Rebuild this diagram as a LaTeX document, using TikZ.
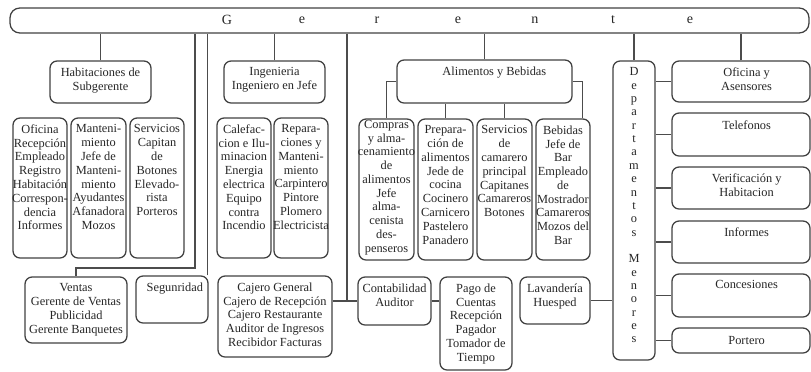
\documentclass[tikz,border=0pt]{standalone}
\usepackage{fontspec}
\setmainfont{Liberation Serif}
\usetikzlibrary{positioning, fit, calc}

\begin{document}
\begin{tikzpicture}[x=0.025cm, y=-0.025cm,
    box/.style={draw=black!75, line width=0.9pt, rounded corners=5pt, inner sep=0pt},
    txt/.style={align=center, font=\fontsize{8.8}{9.8}\selectfont, text=black!85, inner sep=1pt},
    con/.style={draw=black!70, line width=0.8pt}]
    \useasboundingbox (0,0) rectangle (811,371);

    % Gerente bar
    \node[box, rounded corners=7pt, fit={(10,8) (809,33)}] (ger) {};
    \foreach \l/\x [count=\i] in {G/227,e/302,r/377,e/458,n/535,t/613,e/690}
        \node[txt, font=\fontsize{10}{11}\selectfont] (g\i) at (\x,20) {\l};

    % First row
    \node[box, fit={(50,61) (151,103)}] (hab) {};
    \node[txt, below=4pt of hab.north] (hab-t) {Habitaciones de\\Subgerente};
    \node[box, fit={(224,61) (325,103)}] (ing) {};
    \node[txt, below=4pt of ing.north] (ing-t) {Ingenieria\\Ingeniero en Jefe};
    \node[box, fit={(397,60) (572,103)}] (ali) {};
    \node[txt, below=4pt of ali.north, xshift=7pt] (ali-t) {Alimentos y Bebidas};
    \node[box, fit={(613,61) (655,360)}] (dep) {};
    \node[txt, below=4pt of dep.north, font=\fontsize{8.8}{9.5}\selectfont] (dep-t)
        {D\\e\\p\\a\\r\\t\\a\\m\\e\\n\\t\\o\\s\\[9.5pt]M\\e\\n\\o\\r\\e\\s};

    % Right column
    \node[box, fit={(672,61) (810,102)}] (ofa) {};
    \node[txt, below=4pt of ofa.north, xshift=4pt] (ofa-t) {Oficina y\\Asensores};
    \node[box, fit={(672,113) (810,156)}] (tel) {};
    \node[txt, below=5pt of tel.north, xshift=4pt] (tel-t) {Telefonos};
    \node[box, fit={(672,167) (810,209)}] (ver) {};
    \node[txt, below=4pt of ver.north, xshift=4pt] (ver-t) {Verificación y\\Habitacion};
    \node[box, fit={(672,221) (810,263)}] (inf) {};
    \node[txt, below=4pt of inf.north, xshift=4pt] (inf-t) {Informes};
    \node[box, fit={(672,274) (810,317)}] (conc) {};
    \node[txt, below=4pt of conc.north, xshift=4pt] (conc-t) {Concesiones};
    \node[box, fit={(672,328) (810,353)}] (por) {};
    \node[txt, xshift=4pt] (por-t) at (por.center) {Portero};

    % Second row
    \node[box, fit={(13,118) (67,258)}] (ofr) {};
    \node[txt, below=4pt of ofr.north] (ofr-t) {Oficina\\Recepción\\Empleado\\Registro\\Habitación\\Correspon-\\dencia\\Informes};
    \node[box, fit={(71,118) (126,258)}] (man) {};
    \node[txt, below=4pt of man.north] (man-t) {Manteni-\\miento\\Jefe de\\Manteni-\\miento\\Ayudantes\\Afanadora\\Mozos};
    \node[box, fit={(130,118) (184,258)}] (ser) {};
    \node[txt, below=4pt of ser.north] (ser-t) {Servicios\\Capitan\\de\\Botones\\Elevado-\\rista\\Porteros};
    \node[box, fit={(217,118) (271,258)}] (cal) {};
    \node[txt, below=4pt of cal.north] (cal-t) {Calefac-\\cion e Ilu-\\minacion\\Energia\\electrica\\Equipo\\contra\\Incendio};
    \node[box, fit={(274,118) (328,258)}] (rep) {};
    \node[txt, below=4pt of rep.north] (rep-t) {Repara-\\ciones y\\Manteni-\\miento\\Carpintero\\Pintore\\Plomero\\Electricista};
    \node[box, fit={(359,119) (414,260)}] (com) {};
    \node[txt, below=0pt of com.north] (com-t) {Compras\\y alma-\\cenamiento\\de\\alimentos\\Jefe\\alma-\\cenista\\des-\\penseros};
    \node[box, fit={(418,119) (473,260)}] (pre) {};
    \node[txt, below=4pt of pre.north] (pre-t) {Prepara-\\ción de\\alimentos\\Jede de\\cocina\\Cocinero\\Carnicero\\Pastelero\\Panadero};
    \node[box, fit={(477,119) (532,260)}] (cam) {};
    \node[txt, below=4pt of cam.north] (cam-t) {Servicios\\de\\camarero\\principal\\Capitanes\\Camareros\\Botones};
    \node[box, fit={(536,119) (590,260)}] (beb) {};
    \node[txt, below=4pt of beb.north] (beb-t) {Bebidas\\Jefe de\\Bar\\Empleado\\de\\Mostrador\\Camareros\\Mozos del\\Bar};

    % Third row
    \node[box, fit={(25,277) (127,343)}] (ven) {};
    \node[txt, below=4pt of ven.north] (ven-t) {Ventas\\Gerente de Ventas\\Publicidad\\Gerente Banquetes};
    \node[box, fit={(136,276) (208,323)}] (seg) {};
    \node[txt, below=4pt of seg.north, xshift=2pt] (seg-t) {Segunridad};
    \node[box, fit={(218,276) (332,357)}] (caj) {};
    \node[txt, below=4pt of caj.north] (caj-t) {Cajero General\\Cajero de Recepción\\Cajero Restaurante\\Auditor de Ingresos\\Recibidor Facturas};
    \node[box, fit={(358,277) (431,325)}] (cont) {};
    \node[txt, below=4pt of cont.north] (cont-t) {Contabilidad\\Auditor};
    \node[box, fit={(440,277) (512,370)}] (pago) {};
    \node[txt, below=4pt of pago.north] (pago-t) {Pago de\\Cuentas\\Recepción\\Pagador\\Tomador de\\Tiempo};
    \node[box, fit={(520,277) (590,324)}] (lav) {};
    \node[txt, below=4pt of lav.north] (lav-t) {Lavandería\\Huesped};

    % Connectors from Gerente
    \foreach \b in {hab,ing,ali,dep,ofa}
        \draw[con] (\b.north) -- (\b.north |- ger.south);
    \coordinate (vk) at (195,268);
    \draw[con] (vk |- ger.south) -- (vk) -| (ven.north);
    \draw[con] ([xshift=-1pt]seg.north east) -- ([xshift=-1pt]seg.north east |- ger.south);
    \coordinate (ck) at (347,301);
    \draw[con] (ck |- ger.south) -- (ck);
    \draw[con] (caj.east |- cont.west) -- (cont.west);
    \draw[con] (cont.east) -- (pago.west |- cont.east);
    \draw[con] (lav.east) -- (dep.west |- lav.east);

    % Alimentos y Bebidas
    \draw[con] (ali.west) -| (com.north);
    \draw[con] (pre.north) -- (pre.north |- ali.south);
    \draw[con] (cam.north) -- (cam.north |- ali.south);
    \draw[con] (ali.east) -| ([xshift=-0.2cm]beb.north east);

    % Departamentos Menores
    \foreach \b in {ofa,tel,ver,inf,conc,por}
        \draw[con] (\b.west) -- (dep.east |- \b.west);
\end{tikzpicture}
\end{document}
